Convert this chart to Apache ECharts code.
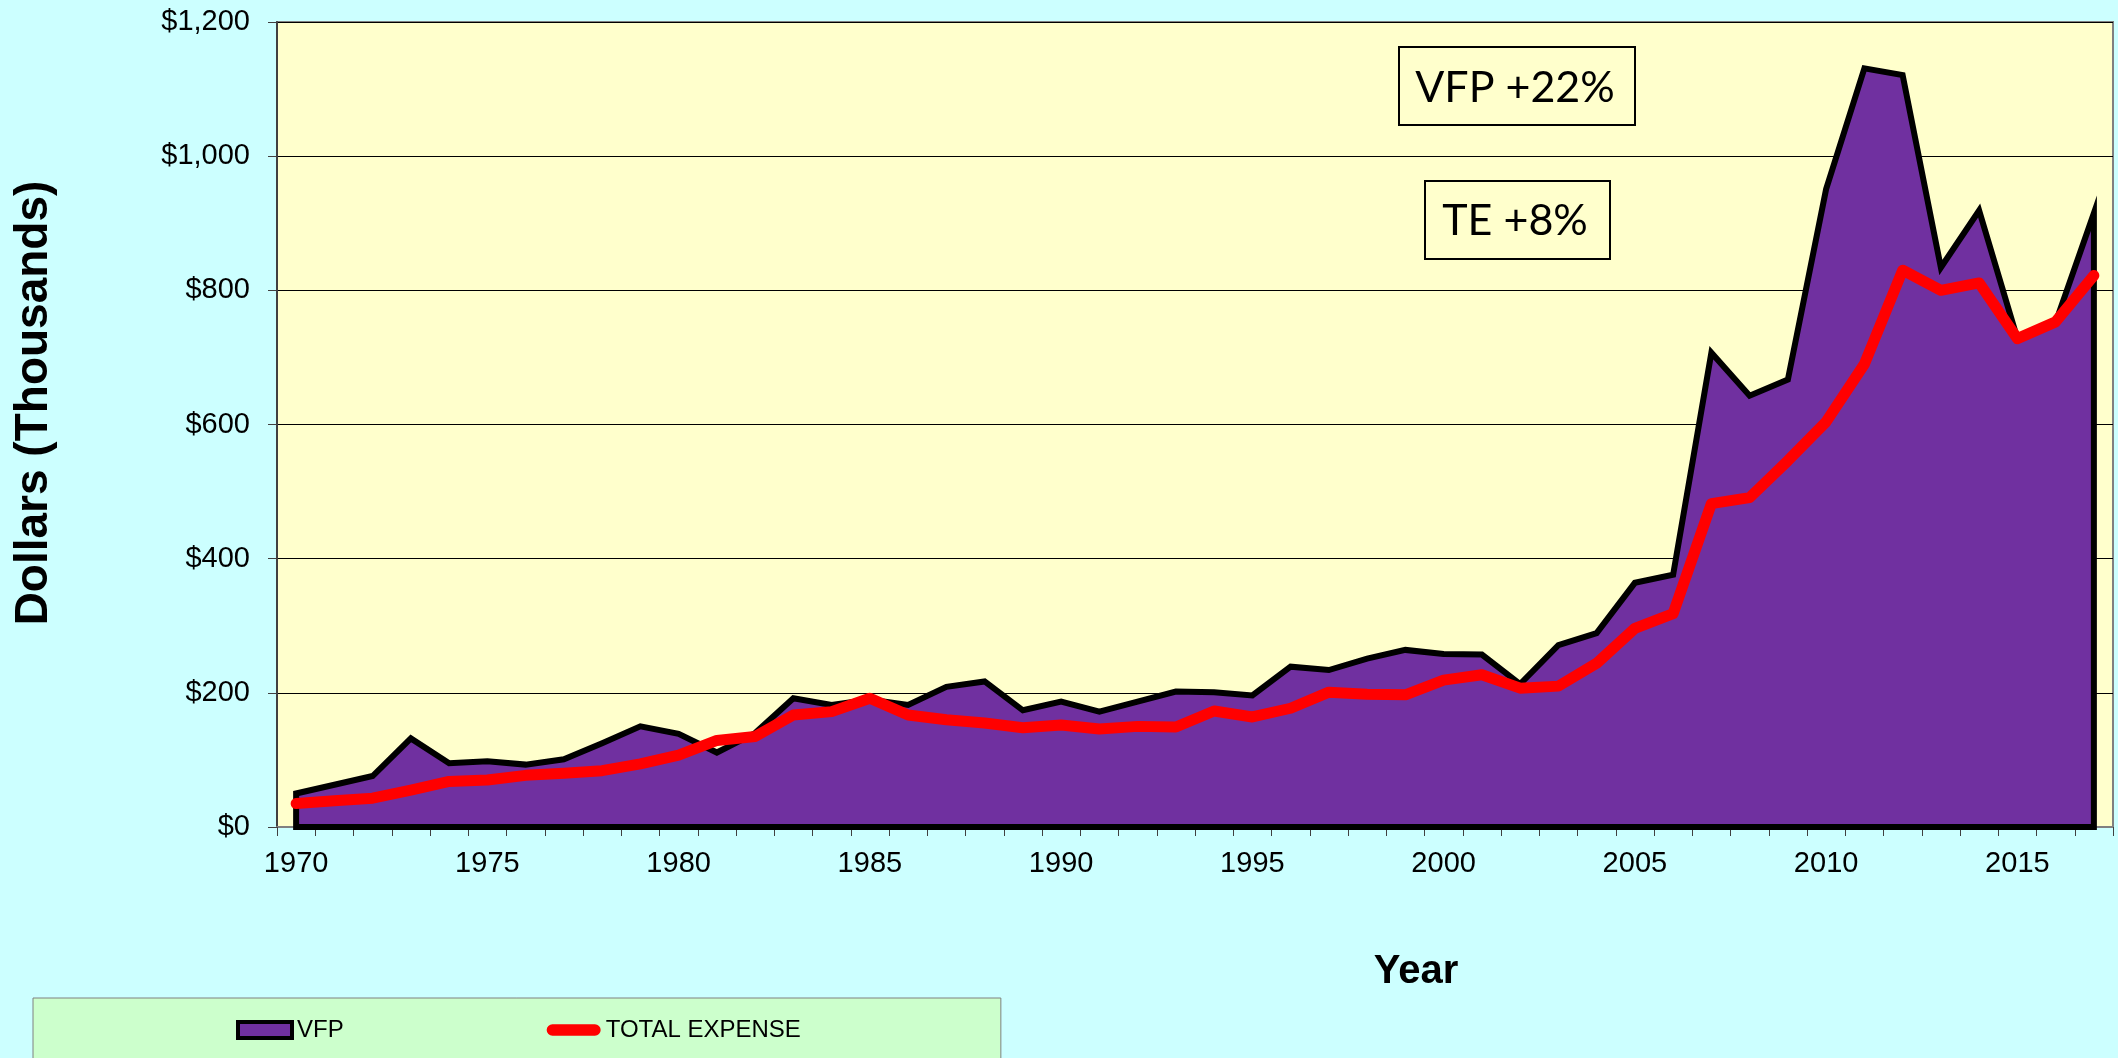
<!DOCTYPE html>
<html>
<head>
<meta charset="utf-8">
<script src="https://cdn.jsdelivr.net/npm/echarts@6/dist/echarts.min.js"></script>
<style>
  html, body { margin: 0; padding: 0; background: #CCFFFF; }
  #chart { width: 2118px; height: 1058px; }
</style>
</head>
<body>
<div id="chart"></div>
<script>
// years on the category axis
var years = ['1970','1971','1972','1973','1974','1975','1976','1977','1978','1979',
    '1980','1981','1982','1983','1984','1985','1986','1987','1988','1989',
    '1990','1991','1992','1993','1994','1995','1996','1997','1998','1999',
    '2000','2001','2002','2003','2004','2005','2006','2007','2008','2009',
    '2010','2011','2012','2013','2014','2015','2016','2017'];

// VFP, thousands of dollars
var vfp = [50, 63, 76, 132, 95, 98, 93, 101, 125, 150,
    139, 111, 140, 192, 182, 190, 182, 209, 217, 174,
    187, 172, 187, 202, 201, 196, 239, 234, 251, 264,
    258, 257, 213, 271, 289, 364, 376, 707, 643, 667,
    951, 1131, 1121, 834, 919, 728, 752, 915];

// total expense, thousands of dollars
var totalExpense = [35, 39, 43, 55, 68, 70, 77, 80, 84, 94,
    107, 129, 135, 167, 172, 192, 167, 160, 155, 148,
    152, 146, 150, 149, 173, 164, 177, 201, 198, 197,
    219, 227, 207, 210, 244, 296, 318, 482, 491, 546,
    604, 690, 830, 800, 811, 728, 753, 822];

var yTicks = [0, 200, 400, 600, 800, 1000, 1200];
var notes = ['VFP +22%', 'TE +8%'];

var myChart = echarts.init(document.getElementById('chart'));

var sans = '"Liberation Sans", Arial, sans-serif';

// whole area drawn as one polygon so the black border goes round it (like excel)
function drawArea(params, api) {
    if (params.dataIndex !== 0) return null;
    var pts = [api.coord([0, 0])];
    for (var i = 0; i < vfp.length; i++) {
        pts.push(api.coord([i, vfp[i]]));
    }
    pts.push(api.coord([vfp.length - 1, 0]));
    return {
        type: 'polygon',
        shape: { points: pts },
        style: {
            fill: '#7030A0',
            stroke: '#000000',
            lineWidth: 6,
            lineJoin: 'miter'
        }
    };
}

var option = {
    backgroundColor: '#CCFFFF',
    animation: false,
    grid: {
        left: 277,
        right: 5,
        top: 22,
        bottom: 231,
        show: true,
        backgroundColor: '#FFFFCC',
        borderColor: '#808080',
        borderWidth: 2
    },
    legend: {
        left: 33,
        top: 998,
        orient: 'horizontal',
        backgroundColor: '#CCFFCC',
        borderColor: '#808080',
        borderWidth: 1,
        padding: [20, 200, 40, 203],
        itemGap: 203,
        itemWidth: 54,
        itemHeight: 16,
        textStyle: { fontFamily: sans, fontSize: 24, color: '#000' },
        data: [
            { name: 'VFP', icon: 'rect',
              itemStyle: { color: '#7030A0', borderColor: '#000', borderWidth: 4 } },
            { name: 'TOTAL EXPENSE',
              icon: 'path://M6,0 L50,0 A6,6 0 0 1 50,12 L6,12 A6,6 0 0 1 6,0 Z',
              itemStyle: { color: '#FF0000', borderWidth: 0 } }
        ]
    },
    xAxis: {
        type: 'category',
        data: years,
        boundaryGap: true,
        axisLine: { show: true, lineStyle: { color: '#808080', width: 2 } },
        axisTick: { show: true, interval: 0, length: 9, lineStyle: { color: '#404040', width: 1 } },
        axisLabel: { interval: 4, fontFamily: sans, fontSize: 29, color: '#000', margin: 22 },
        splitLine: { show: false }
    },
    yAxis: {
        type: 'value',
        min: yTicks[0],
        max: yTicks[yTicks.length - 1],
        interval: 200,
        axisLine: { show: true, lineStyle: { color: '#404040', width: 2 } },
        axisTick: { show: true, length: 9, lineStyle: { color: '#404040', width: 1 } },
        axisLabel: {
            fontFamily: sans, fontSize: 29, color: '#000', margin: 27,
            formatter: function (v) { return '$' + v.toLocaleString('en-US'); }
        },
        splitLine: { show: true, lineStyle: { color: '#000', width: 1 } }
    },
    series: [
        {
            name: 'VFP',
            type: 'custom',
            renderItem: drawArea,
            itemStyle: { color: '#7030A0', borderColor: '#000' },
            encode: { x: 0, y: 1 },
            data: vfp.map(function (v, i) { return [i, v]; }),
            z: 2
        },
        {
            name: 'TOTAL EXPENSE',
            type: 'line',
            data: totalExpense,
            symbol: 'none',
            lineStyle: { color: '#FF0000', width: 11, cap: 'round', join: 'round' },
            itemStyle: { color: '#FF0000' },
            z: 3
        }
    ],
    graphic: [
        {
            type: 'text', x: 34, y: 403, rotation: Math.PI / 2,
            style: { text: 'Dollars (Thousands)', fontFamily: sans, fontSize: 46, fontWeight: 'bold',
                     fill: '#000', align: 'center', verticalAlign: 'middle' }
        },
        {
            type: 'text', x: 1416, y: 972,
            style: { text: 'Year', fontFamily: sans, fontSize: 40, fontWeight: 'bold',
                     fill: '#000', align: 'center', verticalAlign: 'middle' }
        },
        {
            type: 'rect', shape: { x: 1399, y: 47, width: 236, height: 78 }, z: 10,
            style: { fill: '#FFFFCC', stroke: '#000', lineWidth: 2 }
        },
        {
            type: 'text', x: 1515, y: 88, z: 11,
            style: { text: notes[0], fontFamily: 'Lato', fontSize: 43, fill: '#000',
                     align: 'center', verticalAlign: 'middle' }
        },
        {
            type: 'rect', shape: { x: 1425, y: 181, width: 185, height: 78 }, z: 10,
            style: { fill: '#FFFFCC', stroke: '#000', lineWidth: 2 }
        },
        {
            type: 'text', x: 1515, y: 221, z: 11,
            style: { text: notes[1], fontFamily: 'Lato', fontSize: 43, fill: '#000',
                     align: 'center', verticalAlign: 'middle' }
        }
    ]
};

myChart.setOption(option);
</script>
</body>
</html>
